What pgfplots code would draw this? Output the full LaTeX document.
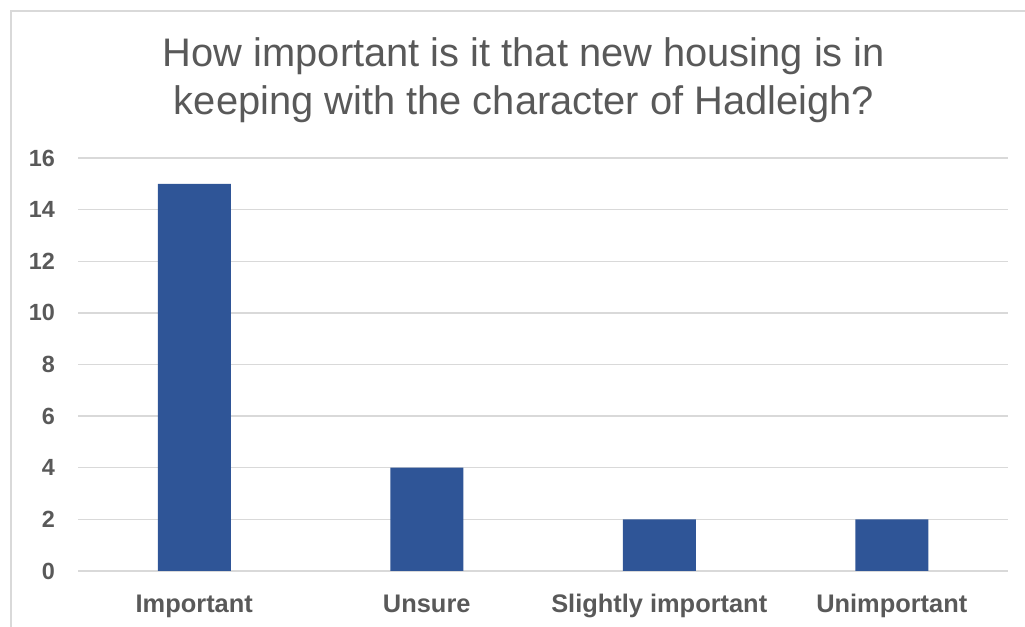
\documentclass[border=0pt]{standalone}
\usepackage{pgfplots}
\pgfplotsset{compat=1.18}
\usepackage{fontspec}
\setmainfont{Liberation Sans}
\definecolor{barblue}{HTML}{2F5597}
\definecolor{txtgray}{HTML}{595959}
\definecolor{gridgray}{HTML}{D9D9D9}
\begin{document}
\begin{tikzpicture}
% page extent
\path[use as bounding box] (-78bp,-56bp) rectangle (947bp,571bp);
% chart frame
\draw[gridgray, line width=2bp] (-67bp,-80bp) -- (-67bp,560bp) -- (980bp,560bp);
\begin{axis}[
  at={(0,0)}, anchor=south west,
  scale only axis,
  width=930bp, height=413bp,
  xmin=-0.5, xmax=3.5,
  ymin=0, ymax=16,
  ytick={0,2,...,16},
  xtick={0,1,2,3},
  xticklabels={Important,Unsure,Slightly important,Unimportant},
  axis line style={draw=none},
  tick style={draw=none},
  ymajorgrids,
  grid style={gridgray, line width=1.3bp},
  /pgf/number format/assume math mode=true,
  yticklabel style={font=\fontsize{23.5}{26}\selectfont\bfseries, text=txtgray, inner sep=0pt, anchor=east, xshift=-23bp},
  xticklabel style={font=\fontsize{25.5}{28}\selectfont\bfseries, text=txtgray, inner sep=0pt, anchor=base, yshift=-37bp},
  ybar, bar width=73bp,
]
\addplot[fill=barblue, draw=none] coordinates {(0,15) (1,4) (2,2) (3,2)};
\end{axis}
\node[anchor=base, text=txtgray, font=\fontsize{40}{48}\selectfont, inner sep=0pt] at (446bp,504bp) {How important is it that new housing is in};
\node[anchor=base, text=txtgray, font=\fontsize{40}{48}\selectfont, inner sep=0pt] at (446bp,456bp) {keeping with the character of Hadleigh?};
\end{tikzpicture}
\end{document}
